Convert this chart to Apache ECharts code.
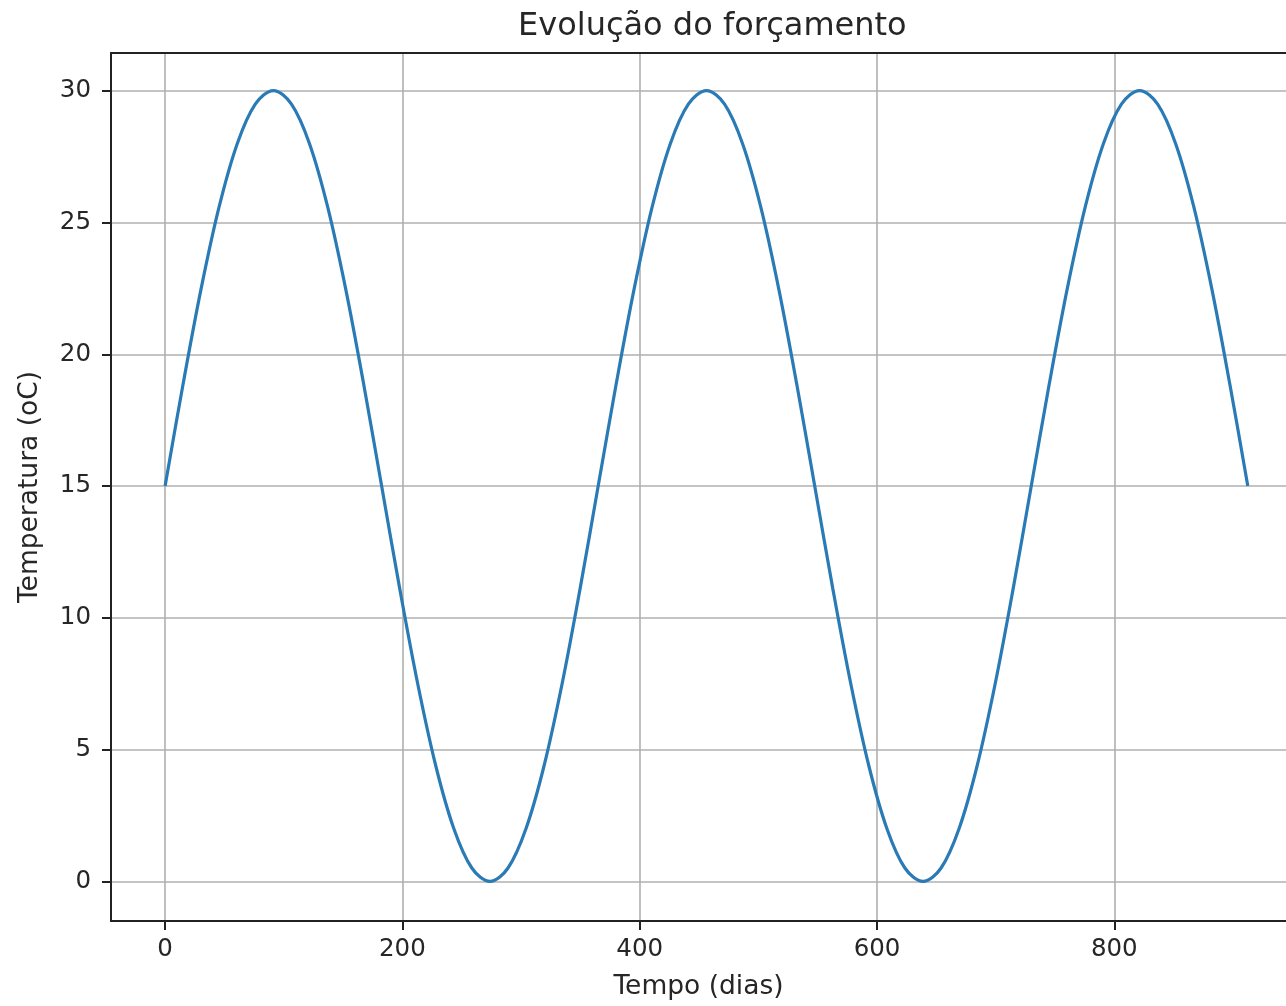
<!DOCTYPE html>
<html>
<head>
<meta charset="utf-8">
<script src="https://cdn.jsdelivr.net/npm/echarts@6/dist/echarts.min.js"></script>
<style>html,body{margin:0;padding:0;background:#fff;}#c{width:1286px;height:1006px;}</style>
</head>
<body>
<div id="c"></div>
<script>
// Data
const days = [0, 15.2, 30.4, 45.6, 60.8, 76.0, 91.3, 106.5, 121.7, 136.9, 152.1, 167.3, 182.5, 197.7, 212.9, 228.1, 243.3, 258.5, 273.8, 289.0, 304.2, 319.4, 334.6, 349.8, 365.0, 380.2, 395.4, 410.6, 425.8, 441.0, 456.3, 471.5, 486.7, 501.9, 517.1, 532.3, 547.5, 562.7, 577.9, 593.1, 608.3, 623.5, 638.8, 654.0, 669.2, 684.4, 699.6, 714.8, 730.0, 745.2, 760.4, 775.6, 790.8, 806.0, 821.3, 836.5, 851.7, 866.9, 882.1, 897.3, 912.5];
const temperature = [15, 18.88, 22.5, 25.61, 27.99, 29.49, 30, 29.49, 27.99, 25.61, 22.5, 18.88, 15, 11.12, 7.5, 4.39, 2.01, 0.51, 0, 0.51, 2.01, 4.39, 7.5, 11.12,
  15, 18.88, 22.5, 25.61, 27.99, 29.49, 30, 29.49, 27.99, 25.61, 22.5, 18.88, 15, 11.12, 7.5, 4.39, 2.01, 0.51, 0, 0.51, 2.01, 4.39, 7.5, 11.12,
  15, 18.88, 22.5, 25.61, 27.99, 29.49, 30, 29.49, 27.99, 25.61, 22.5, 18.88, 15];
const xTicks = [0, 200, 400, 600, 800];
const yTicks = [0, 5, 10, 15, 20, 25, 30];
const titleText = 'Evolução do forçamento';
const xName = 'Tempo (dias)';
const yName = 'Temperatura (oC)';

const pts = days.map((d, i) => [d, temperature[i]]);
const font = 'DejaVu Sans';
const txt = '#262626';
const spine = { show: true, onZero: false, lineStyle: { color: '#222', width: 2 } };

const chart = echarts.init(document.getElementById('c'), null, { renderer: 'canvas' });
chart.setOption({
  animation: false,
  backgroundColor: '#fff',
  title: {
    text: titleText, left: 513, top: 6,
    textStyle: { fontFamily: font, fontSize: 32, fontWeight: 'normal', color: txt }
  },
  grid: { left: 111, top: 53, right: 0, bottom: 83, containLabel: false },
  xAxis: [{
    type: 'value', min: -45.6, max: 944.7, position: 'bottom',
    name: xName, nameLocation: 'middle', nameGap: 53,
    nameTextStyle: { fontFamily: font, fontSize: 26.5, color: txt },
    axisLine: spine,
    axisTick: { show: true, customValues: xTicks, length: 9, lineStyle: { color: '#222', width: 2 } },
    axisLabel: { customValues: xTicks, fontFamily: font, fontSize: 24.5, color: txt, margin: 16 },
    splitLine: { show: true, lineStyle: { color: '#b0b0b0', width: 1.6 } }
  }, {
    type: 'value', min: -45.6, max: 944.7, position: 'top',
    axisLine: spine, axisTick: { show: false }, axisLabel: { show: false }, splitLine: { show: false }
  }],
  yAxis: [{
    type: 'value', min: -1.5, max: 31.43,
    name: yName, nameLocation: 'middle', nameGap: 67,
    nameTextStyle: { fontFamily: font, fontSize: 26.5, color: txt },
    axisLine: spine,
    axisTick: { show: true, customValues: yTicks, length: 9, lineStyle: { color: '#222', width: 2 } },
    axisLabel: { customValues: yTicks, fontFamily: font, fontSize: 24.5, color: txt, margin: 20 },
    splitLine: { show: true, lineStyle: { color: '#b0b0b0', width: 1.6 } }
  }],
  series: [{
    type: 'line', xAxisIndex: 0, yAxisIndex: 0, data: pts,
    smooth: 0.35, showSymbol: false, symbol: 'none',
    lineStyle: { color: '#2a7ab5', width: 3.2 }
  }]
});
</script>
</body>
</html>
